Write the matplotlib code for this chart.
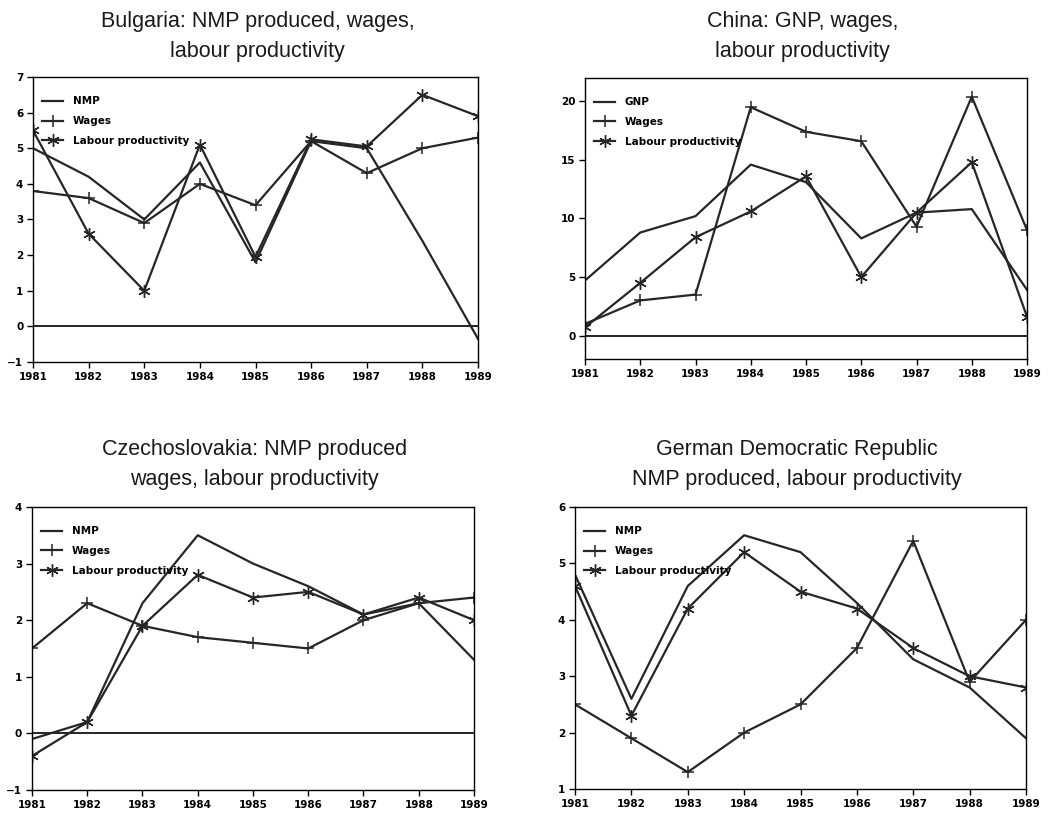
import matplotlib
matplotlib.use("Agg")
import matplotlib.pyplot as plt

years = [1981, 1982, 1983, 1984, 1985, 1986, 1987, 1988, 1989]

# Bulgaria
bg_nmp = [5.0, 4.2, 3.0, 4.6, 1.8, 5.2, 5.0, 2.4, -0.35]
bg_wages = [3.8, 3.6, 2.9, 4.0, 3.4, 5.2, 4.3, 5.0, 5.3]
bg_lp = [5.5, 2.6, 1.0, 5.1, 1.95, 5.25, 5.05, 6.5, 5.9]

# China
cn_gnp = [4.7, 8.8, 10.2, 14.6, 13.1, 8.3, 10.5, 10.8, 3.9]
cn_wages = [1.0, 3.0, 3.5, 19.5, 17.4, 16.6, 9.3, 20.4, 9.0]
cn_lp = [0.7, 4.5, 8.4, 10.6, 13.6, 5.0, 10.5, 14.8, 1.6]

# Czechoslovakia
cs_nmp = [-0.1, 0.2, 2.3, 3.5, 3.0, 2.6, 2.1, 2.3, 1.3]
cs_wages = [1.5, 2.3, 1.9, 1.7, 1.6, 1.5, 2.0, 2.3, 2.4]
cs_lp = [-0.4, 0.2, 1.9, 2.8, 2.4, 2.5, 2.1, 2.4, 2.0]

# German Democratic Republic
dd_nmp = [4.8, 2.6, 4.6, 5.5, 5.2, 4.3, 3.3, 2.8, 1.9]
dd_wages = [2.5, 1.9, 1.3, 2.0, 2.5, 3.5, 5.4, 2.9, 4.0]
dd_lp = [4.6, 2.3, 4.2, 5.2, 4.5, 4.2, 3.5, 3.0, 2.8]

panels = [
    dict(title="Bulgaria: NMP produced, wages,\nlabour productivity",
         first="NMP", series=(bg_nmp, bg_wages, bg_lp),
         ylim=(-1, 7), yticks=[-1, 0, 1, 2, 3, 4, 5, 6, 7], zero=True,
         rect=[0.0315, 0.5553, 0.4246, 0.3501], tx=0.246, ty=0.987),
    dict(title="China: GNP, wages,\nlabour productivity",
         first="GNP", series=(cn_gnp, cn_wages, cn_lp),
         ylim=(-2, 22), yticks=[0, 5, 10, 15, 20], zero=True,
         rect=[0.5582, 0.559, 0.4218, 0.3452], tx=0.766, ty=0.987),
    dict(title="Czechoslovakia: NMP produced\nwages, labour productivity",
         first="NMP", series=(cs_nmp, cs_wages, cs_lp),
         ylim=(-1, 4), yticks=[-1, 0, 1, 2, 3, 4], zero=True,
         rect=[0.0305, 0.0295, 0.4218, 0.3477], tx=0.243, ty=0.461),
    dict(title="German Democratic Republic\nNMP produced, labour productivity",
         first="NMP", series=(dd_nmp, dd_wages, dd_lp),
         ylim=(1, 6), yticks=[1, 2, 3, 4, 5, 6], zero=False,
         rect=[0.5487, 0.0307, 0.4303, 0.3464], tx=0.760, ty=0.461),
]

fig = plt.figure(figsize=(10.48, 8.14), dpi=100)
line_color = "#262626"

for p in panels:
    ax = fig.add_axes(p["rect"])
    s1, s2, s3 = p["series"]
    ax.plot(years, s1, color=line_color, lw=1.6, label=p["first"])
    ax.plot(years, s2, color=line_color, lw=1.6, marker="+", ms=9, mew=1.1,
            label="Wages")
    ax.plot(years, s3, color=line_color, lw=1.6, marker=(6, 2, 0), ms=9,
            mew=1.0, label="Labour productivity")
    if p["zero"]:
        ax.axhline(0, color="black", lw=1.2, zorder=1)
    ax.set_xlim(years[0], years[-1])
    ax.set_ylim(*p["ylim"])
    ax.set_yticks(p["yticks"])
    ax.set_xticks(years)
    ax.set_xticklabels([str(y) for y in years])
    ax.tick_params(direction="out", length=4, width=1, labelsize=7.5,
                   pad=3)
    for lab in ax.get_xticklabels() + ax.get_yticklabels():
        lab.set_fontweight("bold")
    for sp in ax.spines.values():
        sp.set_linewidth(1.0)
    ax.legend(loc="upper left", bbox_to_anchor=(0.0, 0.965),
              frameon=False, handlelength=2.0, handletextpad=0.9,
              labelspacing=0.95, prop=dict(size=7.5, weight="bold"))
    fig.text(p["tx"], p["ty"], p["title"], ha="center", va="top",
             fontsize=15.5, family="Liberation Sans", linespacing=1.6,
             color="#1a1a1a")

fig.savefig("out.png", dpi=100)
